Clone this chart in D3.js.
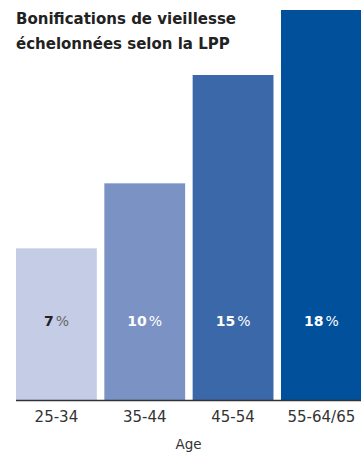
<!DOCTYPE html>
<html><head><meta charset="utf-8">
<script src="https://cdn.jsdelivr.net/npm/d3@7"></script>
<style>html,body{margin:0;padding:0;background:#fff;}svg{display:block;}</style>
</head><body>
<script>
const categories = ["25-34", "35-44", "45-54", "55-64/65"];
const values = [7, 10, 15, 18];
const barColors = ["#c4cce6", "#7b92c5", "#3a68a8", "#00509b"];
const labelColors = ["#222", "#fff", "#fff", "#fff"];
const pctColors = ["#666", "#fff", "#fff", "#fff"];
const titleLines = ["Bonifications de vieillesse", "échelonnées selon la LPP"];
const axisTitle = "Age";

const W = 361, H = 452;
const svg = d3.select("body").append("svg").attr("width", W).attr("height", H);
const font = "'DejaVu Sans', Verdana, sans-serif";

const x = d3.scaleBand().domain(categories).range([16, 361.8]).paddingInner(0.085).paddingOuter(0);
const y = d3.scaleLinear().domain([0, 18]).range([400, 10]);

svg.selectAll("rect.bar").data(values).enter().append("rect")
  .attr("class", "bar")
  .attr("x", (d, i) => x(categories[i]))
  .attr("y", d => y(d))
  .attr("width", x.bandwidth())
  .attr("height", d => y(0) - y(d))
  .attr("fill", (d, i) => barColors[i]);

// baseline axis
const axis = svg.append("g").attr("transform", `translate(0,${y(0)})`)
  .call(d3.axisBottom(x).tickSize(0).tickPadding(11));
axis.select(".domain").attr("stroke", "#333").attr("stroke-width", 1.5).attr("d", "M16,0.5H361");
axis.selectAll("text").attr("font-family", font).attr("font-size", 15).attr("fill", "#333");

svg.append("text").attr("x", (16 + 361) / 2).attr("y", 449)
  .attr("text-anchor", "middle").attr("font-family", font).attr("font-size", 13.5).attr("fill", "#333")
  .text(axisTitle);

// value labels
const lbl = svg.selectAll("text.val").data(values).enter().append("text")
  .attr("class", "val")
  .attr("x", (d, i) => x(categories[i]) + x.bandwidth() / 2)
  .attr("y", 326)
  .attr("text-anchor", "middle")
  .attr("font-family", font).attr("font-size", 14);
lbl.append("tspan").attr("font-weight", "bold").attr("fill", (d, i) => labelColors[i]).text(d => d);
lbl.append("tspan").attr("dx", 2).attr("fill", (d, i) => pctColors[i]).text("%");

// title
svg.append("text").attr("font-family", font).attr("font-weight", "bold").attr("font-size", 15).attr("fill", "#222")
  .selectAll("tspan").data(titleLines).enter().append("tspan")
  .attr("x", 16).attr("y", (d, i) => 23.5 + i * 25.5).text(d => d);
</script>
</body></html>
